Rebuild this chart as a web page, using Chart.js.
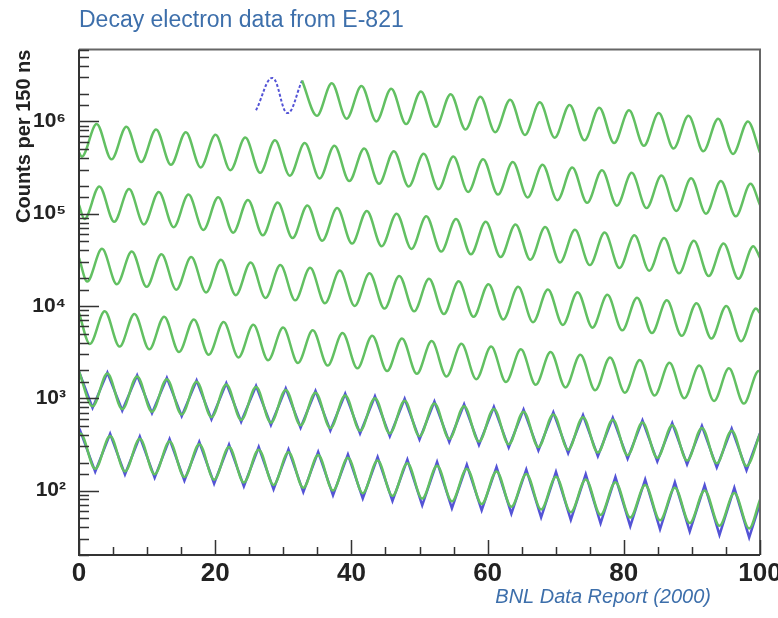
<!DOCTYPE html>
<html>
<head>
<meta charset="utf-8">
<script src="https://cdn.jsdelivr.net/npm/chart.js@4.4.1/dist/chart.umd.min.js"></script>
<style>
  html, body { margin: 0; padding: 0; background: #fff; }
  canvas { display: block; }
</style>
</head>
<body>
<canvas id="wiggle" width="778" height="618"></canvas>
<script>
// time (us, modulo 100) and counts per 150 ns, read at the peaks and troughs of each strip
const row0Time = [32.75, 34.93, 37.12, 39.30, 41.48, 43.66, 45.85, 48.03, 50.21, 52.39, 54.58, 56.76, 58.94, 61.12, 63.31, 65.49, 67.67, 69.85, 72.04, 74.22, 76.40, 78.58, 80.77, 82.95, 85.13, 87.31, 89.50, 91.68, 93.86, 96.04, 98.23, 100];
const row0Count = [2.77e6, 1.15e6, 2.59e6, 1.07e6, 2.42e6, 1.00e6, 2.26e6, 9.36e5, 2.11e6, 8.75e5, 1.97e6, 8.17e5, 1.85e6, 7.64e5, 1.72e6, 7.14e5, 1.61e6, 6.67e5, 1.51e6, 6.23e5, 1.41e6, 5.82e5, 1.32e6, 5.44e5, 1.23e6, 5.09e5, 1.15e6, 4.75e5, 1.07e6, 4.44e5, 1.00e6, 4.6e5];

const row1Time = [0, 0.41, 2.59, 4.77, 6.96, 9.14, 11.32, 13.50, 15.69, 17.87, 20.05, 22.23, 24.42, 26.60, 28.78, 30.96, 33.15, 35.33, 37.51, 39.69, 41.88, 44.06, 46.24, 48.42, 50.61, 52.79, 54.97, 57.15, 59.34, 61.52, 63.70, 65.88, 68.07, 70.25, 72.43, 74.61, 76.80, 78.98, 81.16, 83.34, 85.53, 87.71, 89.89, 92.07, 94.26, 96.44, 98.62, 100];
const row1Count = [4.6e5, 4.15e5, 9.37e5, 3.88e5, 8.76e5, 3.63e5, 8.19e5, 3.39e5, 7.65e5, 3.17e5, 7.15e5, 2.96e5, 6.68e5, 2.77e5, 6.24e5, 2.58e5, 5.83e5, 2.41e5, 5.45e5, 2.26e5, 5.09e5, 2.11e5, 4.76e5, 1.97e5, 4.45e5, 1.84e5, 4.16e5, 1.72e5, 3.89e5, 1.61e5, 3.63e5, 1.50e5, 3.39e5, 1.40e5, 3.17e5, 1.31e5, 2.96e5, 1.22e5, 2.77e5, 1.15e5, 2.59e5, 1.07e5, 2.42e5, 1.00e5, 2.26e5, 9.36e4, 2.11e5, 1.24e5];

const row2Time = [0, 0.80, 2.99, 5.17, 7.35, 9.53, 11.72, 13.90, 16.08, 18.26, 20.45, 22.63, 24.81, 26.99, 29.18, 31.36, 33.54, 35.72, 37.91, 40.09, 42.27, 44.45, 46.64, 48.82, 51.00, 53.18, 55.37, 57.55, 59.73, 61.91, 64.10, 66.28, 68.46, 70.64, 72.83, 75.01, 77.19, 79.37, 81.56, 83.74, 85.92, 88.10, 90.29, 92.47, 94.65, 96.83, 99.02, 100];
const row2Count = [1.24e5, 8.75e4, 1.97e5, 8.17e4, 1.85e5, 7.64e4, 1.72e5, 7.14e4, 1.61e5, 6.67e4, 1.51e5, 6.23e4, 1.41e5, 5.82e4, 1.32e5, 5.44e4, 1.23e5, 5.09e4, 1.15e5, 4.75e4, 1.07e5, 4.44e4, 1.00e5, 4.15e4, 9.37e4, 3.88e4, 8.76e4, 3.63e4, 8.19e4, 3.39e4, 7.65e4, 3.17e4, 7.15e4, 2.96e4, 6.68e4, 2.77e4, 6.24e4, 2.58e4, 5.83e4, 2.41e4, 5.45e4, 2.26e4, 5.09e4, 2.11e4, 4.76e4, 1.97e4, 4.45e4, 3.32e4];

const row3Time = [0, 1.20, 3.38, 5.56, 7.75, 9.93, 12.11, 14.29, 16.48, 18.66, 20.84, 23.02, 25.21, 27.39, 29.57, 31.75, 33.94, 36.12, 38.30, 40.48, 42.67, 44.85, 47.03, 49.21, 51.40, 53.58, 55.76, 57.94, 60.13, 62.31, 64.49, 66.67, 68.86, 71.04, 73.22, 75.40, 77.59, 79.77, 81.95, 84.13, 86.32, 88.50, 90.68, 92.86, 95.05, 97.23, 99.41, 100];
const row3Count = [3.32e4, 1.84e4, 4.16e4, 1.72e4, 3.89e4, 1.61e4, 3.63e4, 1.50e4, 3.39e4, 1.40e4, 3.17e4, 1.31e4, 2.96e4, 1.22e4, 2.77e4, 1.15e4, 2.59e4, 1.07e4, 2.42e4, 1.00e4, 2.26e4, 9.36e3, 2.11e4, 8.75e3, 1.97e4, 8.17e3, 1.85e4, 7.64e3, 1.72e4, 7.14e3, 1.61e4, 6.67e3, 1.51e4, 6.23e3, 1.41e4, 5.82e3, 1.32e4, 5.44e3, 1.23e4, 5.09e3, 1.15e4, 4.75e3, 1.07e4, 4.44e3, 1.00e4, 4.15e3, 9.37e3, 8.38e3];

const row4Time = [0, 1.59, 3.78, 5.96, 8.14, 10.32, 12.51, 14.69, 16.87, 19.05, 21.24, 23.42, 25.60, 27.78, 29.97, 32.15, 34.33, 36.51, 38.70, 40.88, 43.06, 45.24, 47.43, 49.61, 51.79, 53.97, 56.16, 58.34, 60.52, 62.70, 64.89, 67.07, 69.25, 71.43, 73.62, 75.80, 77.98, 80.16, 82.35, 84.53, 86.71, 88.89, 91.08, 93.26, 95.44, 97.62, 99.81, 100];
const row4Count = [8.38e3, 3.88e3, 8.76e3, 3.63e3, 8.19e3, 3.39e3, 7.65e3, 3.17e3, 7.15e3, 2.96e3, 6.68e3, 2.77e3, 6.24e3, 2.58e3, 5.83e3, 2.41e3, 5.45e3, 2.26e3, 5.09e3, 2.11e3, 4.76e3, 1.97e3, 4.45e3, 1.84e3, 4.16e3, 1.72e3, 3.89e3, 1.61e3, 3.63e3, 1.50e3, 3.39e3, 1.40e3, 3.17e3, 1.31e3, 2.96e3, 1.22e3, 2.77e3, 1.15e3, 2.59e3, 1.07e3, 2.42e3, 1.00e3, 2.26e3, 936, 2.11e3, 875, 1.97e3, 1.95e3];

const row5Time = [0, 1.99, 4.17, 6.35, 8.54, 10.72, 12.90, 15.08, 17.27, 19.45, 21.63, 23.81, 26.00, 28.18, 30.36, 32.54, 34.73, 36.91, 39.09, 41.27, 43.46, 45.64, 47.82, 50.00, 52.19, 54.37, 56.55, 58.73, 60.92, 63.10, 65.28, 67.46, 69.65, 71.83, 74.01, 76.19, 78.38, 80.56, 82.74, 84.92, 87.11, 89.29, 91.47, 93.65, 95.84, 98.02, 100];
const row5Count = [1.95e3, 817, 1.85e3, 764, 1.72e3, 714, 1.61e3, 667, 1.51e3, 623, 1.41e3, 582, 1.32e3, 544, 1.23e3, 509, 1.15e3, 475, 1.07e3, 444, 1.00e3, 415, 937, 388, 876, 363, 819, 339, 765, 317, 715, 296, 668, 277, 624, 258, 583, 241, 545, 226, 509, 211, 476, 197, 445, 184, 412];

const row6Time = [0, 0.20, 2.38, 4.57, 6.75, 8.93, 11.11, 13.30, 15.48, 17.66, 19.84, 22.03, 24.21, 26.39, 28.57, 30.76, 32.94, 35.12, 37.30, 39.49, 41.67, 43.85, 46.03, 48.22, 50.40, 52.58, 54.76, 56.95, 59.13, 61.31, 63.49, 65.68, 67.86, 70.04, 72.22, 74.41, 76.59, 78.77, 80.95, 83.14, 85.32, 87.50, 89.68, 91.87, 94.05, 96.23, 98.41, 100];
const row6Count = [412, 416, 172, 389, 161, 363, 150, 339, 140, 317, 131, 296, 122, 277, 115, 259, 107, 242, 100, 226, 93.6, 211, 87.5, 197, 81.7, 185, 76.4, 172, 71.4, 161, 66.7, 151, 62.3, 141, 58.2, 132, 54.4, 123, 50.9, 115, 47.5, 107, 44.4, 100, 41.5, 93.7, 38.8, 79.6];

// raw data (blue) where it shows past the fit
const earlyTime = [26.0, 28.4, 30.6, 32.75];
const earlyCount = [1.32e6, 2.96e6, 1.23e6, 2.77e6];
const row5Data = [1.95e3, 785, 1.90e3, 735, 1.77e3, 688, 1.66e3, 640, 1.56e3, 592, 1.46e3, 555, 1.36e3, 512, 1.28e3, 478, 1.20e3, 446, 1.12e3, 414, 1.05e3, 386, 985, 358, 920, 336, 862, 312, 806, 292, 752, 272, 705, 254, 658, 236, 615, 221, 576, 206, 538, 192, 503, 178, 470, 166, 418];
const row6Data = [405, 440, 160, 412, 149, 384, 138, 360, 128, 336, 119, 315, 111, 296, 103, 279, 96, 262, 89, 245, 82, 230, 77, 216, 69, 204, 64, 190, 61, 180, 56, 169, 51, 159, 48, 150, 44, 140, 41, 132, 38, 123, 36, 114, 33, 107, 31, 72];

const xTickValues = [0, 20, 40, 60, 80, 100];
const yMajorValues = [1e2, 1e3, 1e4, 1e5, 1e6];
const yMajorLabels = ['10²', '10³', '10⁴', '10⁵', '10⁶'];

const FONT = 'Liberation Sans, Arial, Helvetica, sans-serif';
const GREEN = 'rgb(98, 192, 98)';
const BLUE = 'rgb(84, 84, 214)';

function pts(times, counts) {
  return times.map((t, i) => ({ x: t, y: counts[i] }));
}

function fitSet(times, counts) {
  return { data: pts(times, counts), borderColor: GREEN, borderWidth: 2.5, cubicInterpolationMode: 'monotone', pointRadius: 0, order: 0 };
}

function dataSet(times, counts, dash) {
  return { data: pts(times, counts), borderColor: BLUE, borderWidth: dash ? 2 : 2.5, borderDash: dash ? [3, 2] : [], tension: dash ? 0.4 : 0, pointRadius: 0, order: 1 };
}

function isMajor(v) {
  const e = Math.log10(v);
  return Math.abs(e - Math.round(e)) < 1e-6;
}

// ROOT-like frame with ticks pointing into the plot, plus the source caption
const frameTicks = {
  id: 'frameTicks',
  afterDraw(chart) {
    const { ctx, chartArea: a, scales: { x, y } } = chart;
    ctx.save();
    ctx.lineCap = 'butt';
    ctx.strokeStyle = '#666';
    ctx.lineWidth = 2;
    ctx.beginPath();
    ctx.moveTo(a.left, a.top); ctx.lineTo(a.right, a.top); ctx.lineTo(a.right, a.bottom);
    ctx.stroke();
    ctx.strokeStyle = '#333';
    ctx.beginPath();
    ctx.moveTo(a.left, a.top); ctx.lineTo(a.left, a.bottom); ctx.lineTo(a.right, a.bottom);
    ctx.stroke();

    ctx.lineWidth = 1.5;
    ctx.beginPath();
    y.ticks.forEach(t => {
      if (t.value < y.min || t.value > y.max) return;
      const py = Math.round(y.getPixelForValue(t.value)) + 0.5;
      ctx.moveTo(a.left, py);
      ctx.lineTo(a.left + (isMajor(t.value) ? 20 : 10), py);
    });
    for (let v = 0; v <= 100; v += 5) {
      const px = Math.round(x.getPixelForValue(v)) + 0.5;
      ctx.moveTo(px, a.bottom);
      ctx.lineTo(px, a.bottom - (v % 20 === 0 ? 15 : 8));
    }
    ctx.stroke();

    ctx.fillStyle = '#3d6fab';
    ctx.font = 'italic 20px ' + FONT;
    ctx.textAlign = 'right';
    ctx.textBaseline = 'alphabetic';
    ctx.fillText('BNL Data Report (2000)', 711, 603);
    ctx.restore();
  }
};

new Chart(document.getElementById('wiggle'), {
  type: 'line',
  data: {
    datasets: [
      fitSet(row0Time, row0Count),
      fitSet(row1Time, row1Count),
      fitSet(row2Time, row2Count),
      fitSet(row3Time, row3Count),
      fitSet(row4Time, row4Count),
      fitSet(row5Time, row5Count),
      fitSet(row6Time, row6Count),
      dataSet(earlyTime, earlyCount, true),
      dataSet(row5Time, row5Data, false),
      dataSet(row6Time, row6Data, false)
    ]
  },
  options: {
    responsive: false,
    animation: false,
    events: [],
    layout: { padding: { top: 0, right: 18, bottom: 0, left: 0 } },
    plugins: {
      legend: { display: false },
      tooltip: { enabled: false },
      title: {
        display: true,
        text: 'Decay electron data from E-821',
        align: 'start',
        fullSize: false,
        color: '#3d6fab',
        font: { family: FONT, size: 23, weight: 'normal' },
        padding: { top: 7, bottom: 15 }
      }
    },
    scales: {
      x: {
        type: 'linear',
        min: 0,
        max: 100,
        afterBuildTicks: s => { s.ticks = xTickValues.map(v => ({ value: v })); },
        ticks: { color: '#222', font: { family: FONT, size: 26, weight: 'bold' }, padding: 3, maxRotation: 0, autoSkip: false },
        grid: { display: false, drawTicks: false },
        border: { display: false },
        afterFit: s => { s.height = 63; s.paddingLeft = 0; s.paddingRight = 0; }
      },
      y: {
        type: 'logarithmic',
        min: 20,
        max: 6e6,
        ticks: {
          color: '#222',
          font: { family: FONT, size: 21, weight: 'bold' },
          padding: 13,
          autoSkip: false,
          callback: v => {
            const i = yMajorValues.findIndex(m => Math.abs(m - v) / m < 1e-6);
            return i >= 0 ? yMajorLabels[i] : '';
          }
        },
        grid: { display: false, drawTicks: false },
        border: { display: false },
        title: {
          display: true,
          text: 'Counts per 150 ns',
          align: 'end',
          color: '#222',
          font: { family: FONT, size: 20, weight: 'bold' },
          padding: { top: 12, bottom: 0 }
        },
        afterFit: s => { s.width = 79; s.paddingTop = 0; s.paddingBottom = 0; }
      }
    }
  },
  plugins: [frameTicks]
});
</script>
</body>
</html>
